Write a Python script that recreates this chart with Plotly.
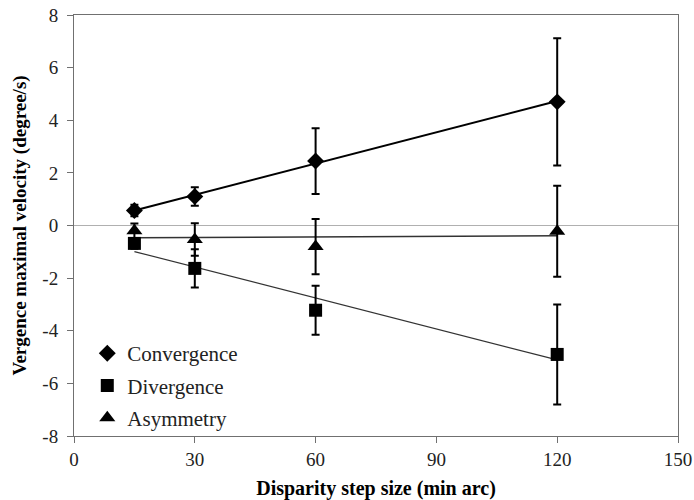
import numpy as np
import plotly.graph_objects as go

step = [15, 30, 60, 120]
conv = [0.57, 1.1, 2.45, 4.7]
conv_err = [0.22, 0.35, 1.25, 2.42]
div = [-0.68, -1.63, -3.22, -4.9]
div_err = [0.2, 0.73, 0.93, 1.9]
asym = [-0.2, -0.53, -0.8, -0.22]
asym_err = [0.28, 0.62, 1.05, 1.73]

x_ticks = [0, 30, 60, 90, 120, 150]
y_ticks = [-8, -6, -4, -2, 0, 2, 4, 6, 8]

FONT = "Liberation Serif, Times New Roman, serif"

fig = go.Figure()

def trend(y, color, width):
    x = np.array(step, dtype=float)
    k, b = np.polyfit(x, np.array(y), 1)
    xs = np.array([x.min(), x.max()])
    fig.add_trace(go.Scatter(x=xs, y=k * xs + b, mode="lines",
                             line=dict(color=color, width=width),
                             showlegend=False, hoverinfo="skip"))

trend(conv, "#000000", 2)
trend(div, "#333333", 1.2)
trend(asym, "#333333", 1.5)

def series(name, y, err, symbol, size):
    fig.add_trace(go.Scatter(
        x=step, y=y, mode="markers", name=name, legendgroup=name,
        marker=dict(symbol=symbol, size=size, color="black"),
        error_y=dict(type="data", array=err, visible=True,
                     color="black", thickness=2, width=4)))

series("Convergence", conv, conv_err, "diamond", 13)
series("Divergence", div, div_err, "square", 13)
series("Asymmetry", asym, asym_err, "triangle-up", 14)

axis_common = dict(showline=True, mirror=True, linecolor="#707070", linewidth=1,
                   ticks="outside", ticklen=6, tickcolor="#707070",
                   showgrid=False, automargin=False,
                   ticklabeloverflow="allow",
                   tickfont=dict(family=FONT, size=19, color="#222222"))

fig.update_layout(
    width=694, height=500,
    margin=dict(l=74, r=16, t=15, b=64),
    paper_bgcolor="white", plot_bgcolor="white",
    font=dict(family=FONT),
    xaxis=dict(range=[0, 150], tickvals=x_ticks,
               ticktext=[str(v) for v in x_ticks],
               zeroline=False,
               title=dict(text="<b>Disparity step size (min arc)</b>",
                          font=dict(family=FONT, size=20, color="black"),
                          standoff=12),
               **axis_common),
    yaxis=dict(range=[-8, 8], tickvals=y_ticks,
               ticktext=[str(v) for v in y_ticks],
               ticklabelstandoff=5,
               zeroline=True, zerolinecolor="#b0b0b0", zerolinewidth=1,
               title=dict(text="<b>Vergence maximal velocity (degree/s)</b>",
                          font=dict(family=FONT, size=19, color="black"),
                          standoff=10),
               **axis_common),
    legend=dict(x=0.022, y=-0.005, xanchor="left", yanchor="bottom",
                bgcolor="rgba(0,0,0,0)", traceorder="grouped",
                tracegroupgap=2,
                font=dict(family=FONT, size=21, color="#222222")),
)

fig.write_html("out.html")
